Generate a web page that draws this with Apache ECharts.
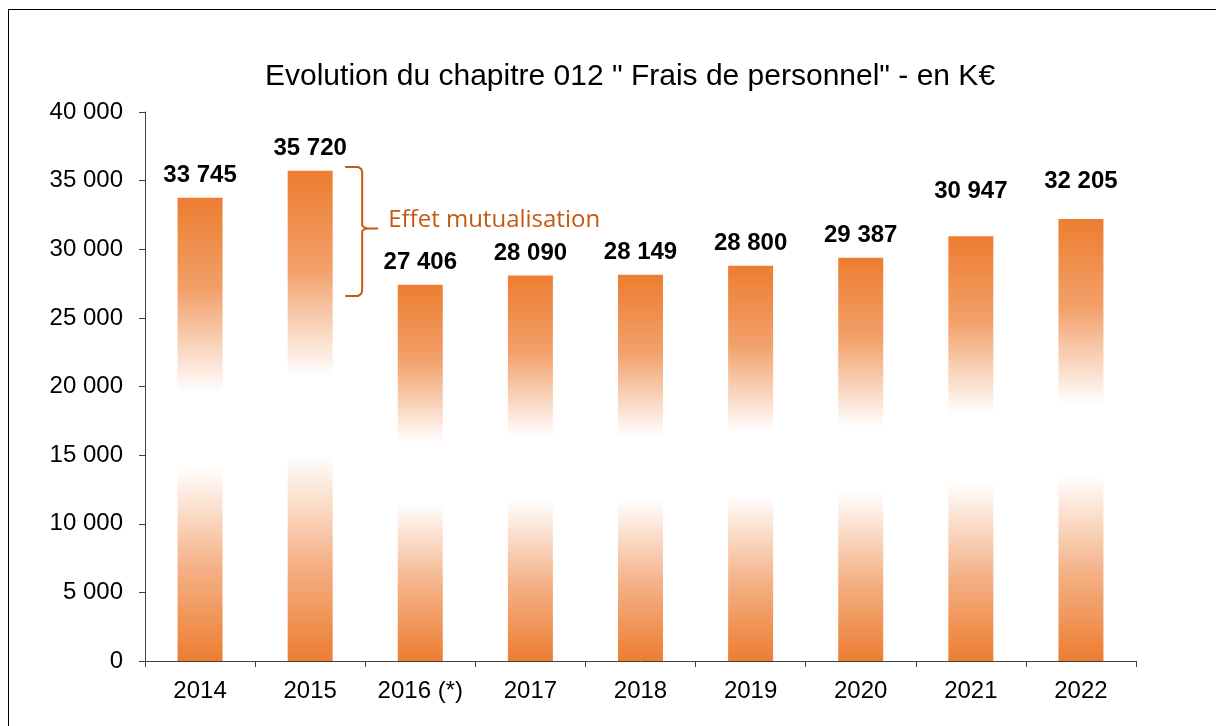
<!DOCTYPE html>
<html>
<head>
<meta charset="utf-8">
<script src="https://cdn.jsdelivr.net/npm/echarts@6/dist/echarts.min.js"></script>
<style>
  html, body { margin: 0; padding: 0; background: #fff; }
  #frame { position: absolute; left: 8px; top: 9px; width: 1240px; height: 760px; border: 1px solid #000; }
  #main { position: absolute; left: 0; top: 0; width: 1216px; height: 726px; }
</style>
</head>
<body>
<div id="frame"></div>
<div id="main"></div>
<script>
var years = ['2014', '2015', '2016 (*)', '2017', '2018', '2019', '2020', '2021', '2022'];
var frais = [33745, 35720, 27406, 28090, 28149, 28800, 29387, 30947, 32205];
var yTicks = [0, 5000, 10000, 15000, 20000, 25000, 30000, 35000, 40000];

// étiquettes déplacées à la main dans l'original
var labelLift = { '2021': 23, '2022': 16 };

function fmt(v) {
    return String(v).replace(/\B(?=(\d{3})+(?!\d))/g, ' ');
}

var barData = frais.map(function (v, i) {
    var item = { value: v };
    if (labelLift[years[i]]) {
        item.label = { distance: 10 + labelLift[years[i]] };
    }
    return item;
});

var chart = echarts.init(document.getElementById('main'));
var option = {
    backgroundColor: 'transparent',
    animation: false,
    title: {
        text: 'Evolution du chapitre 012 " Frais de personnel" - en K€',
        left: 260,
        top: 57,
        textStyle: {
            fontFamily: 'Liberation Sans',
            fontWeight: 'normal',
            fontSize: 30,
            color: '#000'
        }
    },
    grid: {
        left: 145,
        right: 80,
        top: 112,
        bottom: 65
    },
    xAxis: {
        type: 'category',
        data: years,
        axisLine: { lineStyle: { color: '#404040', width: 1 } },
        axisTick: { show: true, length: 6, lineStyle: { color: '#404040' } },
        axisLabel: {
            fontFamily: 'Liberation Sans',
            fontSize: 24,
            color: '#000',
            margin: 18,
            interval: 0
        }
    },
    yAxis: {
        type: 'value',
        min: yTicks[0],
        max: yTicks[yTicks.length - 1],
        interval: 5000,
        splitLine: { show: false },
        axisLine: { show: true, lineStyle: { color: '#404040', width: 1 } },
        axisTick: { show: true, length: 6, lineStyle: { color: '#404040' } },
        axisLabel: {
            fontFamily: 'Liberation Sans',
            fontSize: 24,
            color: '#000',
            margin: 22,
            formatter: function (v) { return fmt(v); }
        }
    },
    series: [{
        name: 'Frais de personnel',
        type: 'bar',
        data: barData,
        barWidth: 45,
        itemStyle: {
            color: {
                type: 'linear',
                x: 0, y: 0, x2: 0, y2: 1,
                colorStops: [
                    { offset: 0, color: '#ED7D31' },
                    { offset: 0.2, color: '#F2A06A' },
                    { offset: 0.42, color: '#FFFFFF' },
                    { offset: 0.58, color: '#FFFFFF' },
                    { offset: 0.8, color: '#F4B186' },
                    { offset: 1, color: '#ED7D31' }
                ],
                global: false
            }
        },
        label: {
            show: true,
            position: 'top',
            distance: 10,
            fontFamily: 'Liberation Sans',
            fontWeight: 'bold',
            fontSize: 24,
            color: '#000',
            formatter: function (p) { return fmt(p.value); }
        }
    }]
};
chart.setOption(option);

// accolade "Effet mutualisation" entre 2015 et 2016
var cx = chart.convertToPixel({ xAxisIndex: 0 }, '2015');
var yTop = chart.convertToPixel({ yAxisIndex: 0 }, 36000);
var yBot = chart.convertToPixel({ yAxisIndex: 0 }, 26600);
var yMid = (yTop + yBot) / 2 - 3;
var x0 = cx + 35, x1 = cx + 52, xTip = cx + 68;

chart.setOption({
    graphic: [{
        type: 'polyline',
        shape: {
            points: [
                [x0, yTop], [x1 - 4, yTop], [x1 - 1, yTop + 2], [x1, yTop + 5],
                [x1, yMid - 3], [x1 + 2, yMid - 1], [x1 + 5, yMid], [xTip, yMid]
            ]
        },
        style: { stroke: '#C55A11', lineWidth: 2, fill: null }
    }, {
        type: 'polyline',
        shape: {
            points: [
                [x1 + 5, yMid], [x1 + 2, yMid + 1], [x1, yMid + 3],
                [x1, yBot - 5], [x1 - 1, yBot - 2], [x1 - 4, yBot], [x0, yBot]
            ]
        },
        style: { stroke: '#C55A11', lineWidth: 2, fill: null }
    }, {
        type: 'text',
        x: xTip + 10,
        y: yMid - 8,
        style: {
            text: 'Effet mutualisation',
            fontFamily: 'Open Sans',
            fontSize: 24,
            fill: '#C55A11',
            verticalAlign: 'middle'
        }
    }]
});
</script>
</body>
</html>
